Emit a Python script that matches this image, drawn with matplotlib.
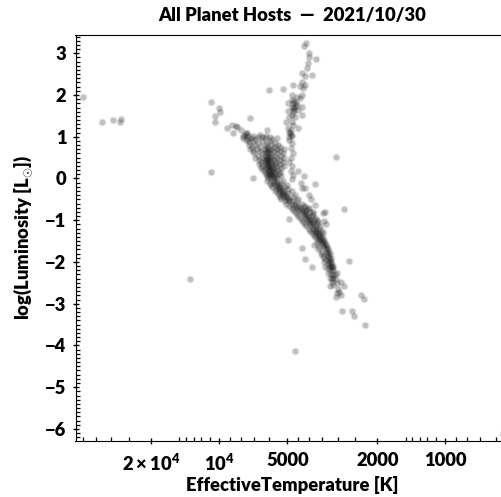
import matplotlib
matplotlib.use("Agg")
import matplotlib.pyplot as plt
import numpy as np

plt.rcParams["font.family"] = ["Lato", "DejaVu Sans"]
plt.rcParams["font.weight"] = 800
plt.rcParams["mathtext.fontset"] = "custom"
plt.rcParams["mathtext.rm"] = "Lato:weight=800"
plt.rcParams["mathtext.bf"] = "Lato:weight=800"
plt.rcParams["mathtext.it"] = "Lato:weight=800"

# (log10 Teff, log10 L) of scattered stars
hot_stars = [(4.604, 1.96), (4.518, 1.355), (4.469, 1.41), (4.44, 1.355), (4.436, 1.415),
             (4.037, 1.83), (4.003, 1.70), (3.998, 1.59), (4.019, 1.50), (4.02, 1.355),
             (4.037, 0.155), (4.128, -2.42)]
wing_stars = [(3.966, 1.21), (3.944, 1.27), (3.938, 1.10), (3.922, 1.23), (3.928, 1.25),
              (3.905, 1.16), (3.888, 1.05), (3.895, 1.02), (3.884, 1.08), (3.897, 0.98),
              (3.877, 1.10), (3.872, 0.95), (3.880, 0.92), (3.868, 0.88), (3.874, 1.02),
              (3.864, 1.44), (3.860, 0.98), (3.850, 1.02), (3.842, 0.94), (3.828, 1.00),
              (3.820, 1.04), (3.810, 1.00), (3.800, 0.96), (3.795, 1.02), (3.788, 1.16),
              (3.775, 1.00), (3.765, 0.95), (3.746, 0.98), (3.852, 0.01)]
giant_stars = [(3.618, 3.25), (3.625, 3.17), (3.603, 3.01), (3.603, 2.90), (3.573, 2.87),
               (3.609, 2.76), (3.610, 2.64), (3.635, 2.52), (3.621, 2.46), (3.589, 2.49),
               (3.635, 2.32), (3.621, 2.24), (3.643, 2.22), (3.628, 2.16), (3.674, 2.23),
               (3.718, 2.14), (3.781, 2.11), (3.635, 2.00), (3.657, 1.96), (3.680, 2.00),
               (3.643, 1.92), (3.680, 1.88), (3.673, 1.81), (3.695, 1.81), (3.657, 1.76),
               (3.633, 1.72), (3.680, 1.72), (3.697, 1.62), (3.673, 1.60), (3.651, 1.64),
               (3.633, 1.52), (3.680, 1.52), (3.690, 1.47), (3.665, 1.47), (3.706, 1.35),
               (3.680, 1.36), (3.673, 1.28), (3.653, 1.21), (3.695, 1.20), (3.672, 1.70),
               (3.668, 1.65), (3.665, 1.72), (3.660, 1.80), (3.670, 1.86), (3.690, 1.12),
               (3.685, 1.05), (3.692, 1.00), (3.683, 1.16), (3.688, 1.08), (3.680, 1.02),
               (3.690, 0.92), (3.680, 0.85), (3.684, 0.72), (3.676, 0.62), (3.682, 0.50),
               (3.690, 0.40), (3.678, 0.30), (3.684, 0.18), (3.672, 0.08), (3.680, -0.02)]
cool_stars = [(3.653, 0.19), (3.626, 0.07), (3.577, -0.13), (3.640, -0.10), (3.635, -0.22),
              (3.621, -0.22), (3.602, -0.40), (3.594, -0.49), (3.577, -0.64), (3.621, -0.68),
              (3.606, -0.72), (3.584, -0.81), (3.543, -0.83), (3.532, -0.80), (3.447, -0.72),
              (3.484, 0.51), (3.528, -1.09), (3.537, -1.01), (3.569, -1.0), (3.690, -0.98),
              (3.695, -1.47), (3.635, -1.67), (3.621, -1.93), (3.589, -2.13), (3.426, -1.97),
              (3.481, -2.26), (3.463, -2.48), (3.447, -2.58), (3.373, -2.80), (3.360, -2.88),
              (3.457, -3.18), (3.414, -3.18), (3.404, -3.29), (3.355, -3.50), (3.667, -4.14),
              (3.478, -2.75), (3.484, -2.83), (3.463, -2.79), (3.469, -2.71), (3.473, -2.64),
              (3.510, -2.58), (3.496, -2.55), (3.478, -2.51), (3.503, -2.48), (3.510, -2.39),
              (3.498, -2.39), (3.518, -2.27), (3.496, -2.31), (3.532, -2.11), (3.503, -2.11),
              (2.746, -6.12)]

# main sequence, listed by luminosity band
band_lum = [0.90, 0.85, 0.80, 0.75, 0.70, 0.65, 0.60, 0.55, 0.50, 0.45, 0.40, 0.35, 0.30,
            0.25, 0.20, 0.15, 0.10, 0.05, 0.00, -0.05, -0.10, -0.15, -0.20, -0.25, -0.30,
            -0.35, -0.40, -0.45, -0.50, -0.55, -0.60, -0.65, -0.70, -0.75, -0.80, -0.85,
            -0.90, -0.95, -1.00, -1.05, -1.10, -1.15, -1.20, -1.25, -1.30, -1.35, -1.40,
            -1.45, -1.50, -1.55, -1.60, -1.65, -1.70, -1.75, -1.80, -1.85, -1.90, -1.95,
            -2.00, -2.05, -2.10, -2.15, -2.20, -2.30, -2.40]
band_logt = [
    [3.85, 3.81, 3.775], [3.83, 3.79, 3.755], [3.87, 3.84, 3.80, 3.77, 3.74],
    [3.855, 3.82, 3.79, 3.76, 3.73], [3.865, 3.835, 3.80, 3.785, 3.77, 3.745, 3.715],
    [3.85, 3.82, 3.795, 3.78, 3.76, 3.73], [3.845, 3.81, 3.795, 3.785, 3.77, 3.745, 3.72],
    [3.83, 3.80, 3.785, 3.772, 3.755, 3.725], [3.84, 3.81, 3.795, 3.783, 3.77, 3.745, 3.715],
    [3.825, 3.80, 3.788, 3.775, 3.76, 3.73], [3.815, 3.795, 3.783, 3.77, 3.75, 3.72],
    [3.825, 3.80, 3.785, 3.772, 3.755, 3.73], [3.81, 3.79, 3.778, 3.765, 3.745, 3.715],
    [3.815, 3.795, 3.78, 3.768, 3.752, 3.725], [3.805, 3.785, 3.775, 3.762, 3.74],
    [3.80, 3.78, 3.768, 3.755, 3.73], [3.795, 3.78, 3.77, 3.757, 3.735],
    [3.79, 3.775, 3.763, 3.75, 3.725], [3.785, 3.77, 3.76, 3.745],
    [3.79, 3.762, 3.75, 3.72], [3.775, 3.757, 3.745, 3.725], [3.77, 3.75, 3.737, 3.70],
    [3.765, 3.742, 3.73, 3.71], [3.75, 3.736, 3.724, 3.695], [3.755, 3.73, 3.718, 3.68],
    [3.74, 3.724, 3.712, 3.695], [3.735, 3.717, 3.705, 3.665], [3.73, 3.712, 3.70, 3.675],
    [3.725, 3.702, 3.69, 3.65], [3.71, 3.69, 3.678, 3.655], [3.705, 3.678, 3.666, 3.635],
    [3.69, 3.666, 3.654, 3.625], [3.68, 3.656, 3.644, 3.605], [3.675, 3.646, 3.634, 3.615],
    [3.665, 3.636, 3.624, 3.60], [3.655, 3.627, 3.615, 3.585], [3.65, 3.621, 3.609, 3.59],
    [3.645, 3.615, 3.603, 3.575], [3.635, 3.609, 3.597, 3.58], [3.63, 3.603, 3.591, 3.565],
    [3.62, 3.597, 3.585, 3.57], [3.615, 3.59, 3.578, 3.555], [3.605, 3.584, 3.572, 3.56],
    [3.60, 3.578, 3.566, 3.545], [3.59, 3.572, 3.56, 3.54], [3.58, 3.565, 3.553],
    [3.575, 3.559, 3.547], [3.57, 3.553, 3.541], [3.56, 3.547, 3.535],
    [3.57, 3.544, 3.532], [3.58, 3.54, 3.528], [3.56, 3.535, 3.522], [3.565, 3.53, 3.518],
    [3.545, 3.525, 3.514], [3.55, 3.523, 3.51], [3.54, 3.52], [3.535, 3.515, 3.505],
    [3.527, 3.51], [3.535, 3.515, 3.505], [3.52, 3.505], [3.512, 3.498], [3.52, 3.50],
    [3.51, 3.495], [3.505, 3.49], [3.50, 3.485],
]

x_major = [2e4, 1e4, 5000, 2000, 1000]
x_major_labels = [r"$2\times10^{4}$", r"$10^{4}$", "5000", "2000", "1000"]
x_minor = [4e4, 3.5e4, 3e4, 2.5e4, 1.5e4, 1.4e4, 1.3e4, 1.2e4, 1.1e4, 9000, 8000, 7000, 6000,
           4500, 4000, 3500, 3000, 2500, 1500, 1400, 1300, 1200, 1100, 900, 800, 700, 600]
y_major = [3, 2, 1, 0, -1, -2, -3, -4, -5, -6]

scatter_pts = hot_stars + wing_stars + giant_stars + cool_stars
for lum, temps in zip(band_lum, band_logt):
    scatter_pts = scatter_pts + [(t, lum) for t in temps]
log_teff = np.array([p[0] for p in scatter_pts])
log_lum = np.array([p[1] for p in scatter_pts])

W, H = 501, 497
fig = plt.figure(figsize=(W / 100, H / 100), dpi=100)
ax = fig.add_axes([75.5 / W, (H - 441) / H, (509.5 - 75.5) / W, (441 - 34.5) / H])
# soft edged dots: a wide faint disc under a tighter one
ax.scatter(10 ** log_teff, log_lum, s=32, c="k", alpha=0.09, linewidths=0)
ax.scatter(10 ** log_teff, log_lum, s=17, c="k", alpha=0.17, linewidths=0)

ax.set_xscale("log")
ax.set_xlim(10 ** 4.636, 10 ** 2.7165)
ax.set_ylim(-6.29, 3.45)
ax.set_xticks(x_major)
ax.set_xticklabels(x_major_labels)
ax.set_xticks(x_minor, minor=True)
ax.set_xticklabels([""] * len(x_minor), minor=True)
ax.set_yticks(y_major)
ax.set_yticks(np.arange(-6.2, 3.41, 0.1), minor=True)
ax.tick_params(axis="both", which="major", direction="inout", length=5, width=1, labelsize=13.2, pad=4)
ax.tick_params(axis="x", which="major", pad=5.5)
ax.tick_params(axis="both", which="minor", direction="in", length=2.8, width=0.9)
ax.set_xlabel("EffectiveTemperature [K]", fontsize=13.2, fontweight=800, labelpad=2)
ax.set_ylabel(r"log(Luminosity [L$_{\odot}$])", fontsize=13.2, fontweight=800, labelpad=8)
ax.set_title("All Planet Hosts  —  2021/10/30", fontsize=13.2, fontweight=800, pad=10)
fig.savefig("out.png", dpi=100)
plt.close(fig)
